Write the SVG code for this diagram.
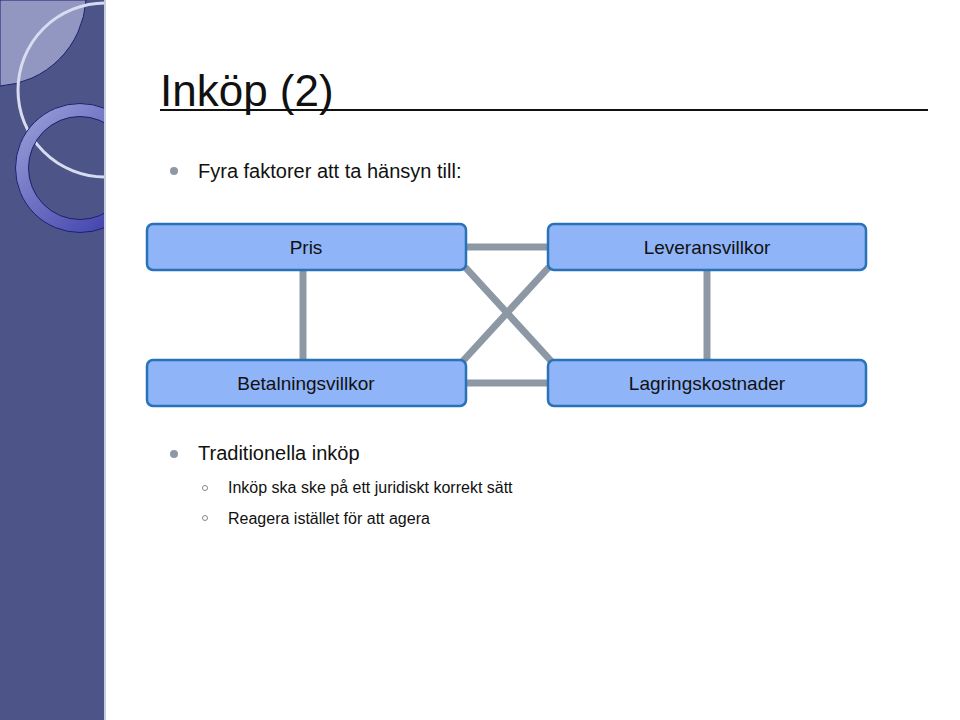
<svg xmlns="http://www.w3.org/2000/svg" width="960" height="720" viewBox="0 0 960 720">
<defs>
<style>
.box{fill:#8fb4f8;stroke:#2a72b8;stroke-width:2.5}
.lbl{font-family:"Liberation Sans",Arial,sans-serif;font-size:19px;fill:#111;text-anchor:middle}
.con{stroke:#8c98a4;stroke-width:7;fill:none}
.t{font-family:"Liberation Sans",Arial,sans-serif;fill:#111}
</style>
<linearGradient id="ring" x1="0" y1="0" x2="1" y2="1"><stop offset="0" stop-color="#9aa0d8"/><stop offset="1" stop-color="#3838a8"/></linearGradient>
<clipPath id="band"><rect x="0" y="0" width="106" height="720"/></clipPath>
</defs>
<rect width="960" height="720" fill="#fff"/>
<g clip-path="url(#band)">
<rect x="0" y="0" width="106" height="720" fill="#4d5488"/>
<path d="M0,0 H86 A92,92 0 0 1 0,86 Z" fill="#9197c0" stroke="#1c2070" stroke-width="1"/>
<circle cx="105" cy="90" r="87" fill="none" stroke="#d8dcf0" stroke-width="3"/>
<circle cx="80" cy="168" r="58" fill="none" stroke="url(#ring)" stroke-width="13"/>
<circle cx="80" cy="168" r="64.5" fill="none" stroke="#1c2070" stroke-width="1"/>
<circle cx="80" cy="168" r="51.5" fill="none" stroke="#1c2070" stroke-width="1"/>
</g>
<line x1="105" y1="0" x2="105" y2="720" stroke="#c8cce0" stroke-width="2"/>
<text class="t" x="160" y="106" font-size="44" fill="#222">Inköp (2)</text>
<line x1="160" y1="110" x2="928" y2="110" stroke="#111" stroke-width="2"/>
<circle cx="174" cy="171" r="4" fill="#8c98a4"/>
<text class="t" x="198" y="178" font-size="20">Fyra faktorer att ta hänsyn till:</text>
<g id="connectors">
<line class="con" x1="466" y1="247" x2="548" y2="247"/>
<line class="con" x1="466" y1="383" x2="548" y2="383"/>
<line class="con" x1="303" y1="270" x2="303" y2="360"/>
<line class="con" x1="707" y1="270" x2="707" y2="360"/>
<line class="con" x1="465" y1="267" x2="552" y2="362"/>
<line class="con" x1="549" y1="267" x2="462" y2="362"/>
</g>
<g id="pris"><rect class="box" x="147" y="224" width="319" height="46" rx="6"/><text class="lbl" x="306" y="254">Pris</text></g>
<g id="leverans"><rect class="box" x="548" y="224" width="318" height="46" rx="6"/><text class="lbl" x="707" y="254">Leveransvillkor</text></g>
<g id="betalning"><rect class="box" x="147" y="360" width="319" height="46" rx="6"/><text class="lbl" x="306" y="390">Betalningsvillkor</text></g>
<g id="lagring"><rect class="box" x="548" y="360" width="318" height="46" rx="6"/><text class="lbl" x="707" y="390">Lagringskostnader</text></g>
<circle cx="174" cy="454" r="4" fill="#8c98a4"/>
<text class="t" x="198" y="460" font-size="20">Traditionella inköp</text>
<circle cx="205" cy="488" r="2.5" fill="none" stroke="#888" stroke-width="1"/>
<text class="t" x="228" y="493" font-size="16">Inköp ska ske på ett juridiskt korrekt sätt</text>
<circle cx="205" cy="518" r="2.5" fill="none" stroke="#888" stroke-width="1"/>
<text class="t" x="228" y="524" font-size="16">Reagera istället för att agera</text>
</svg>
